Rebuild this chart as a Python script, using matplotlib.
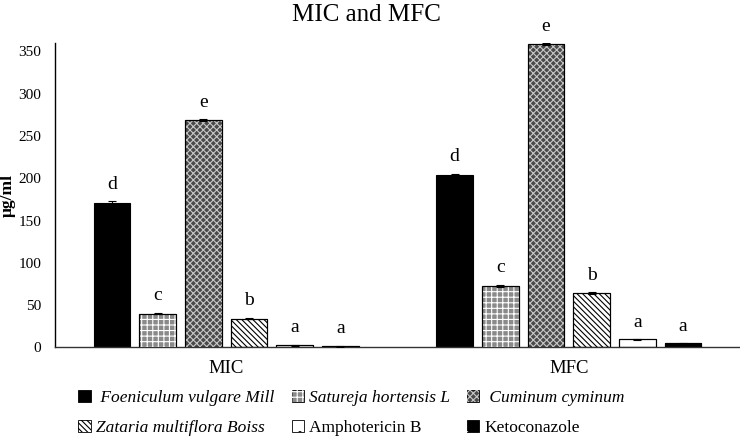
import numpy as np
import matplotlib.pyplot as plt
from matplotlib.patches import Patch
from matplotlib.legend_handler import HandlerTuple

plt.rcParams['font.family'] = ['Liberation Serif', 'DejaVu Serif']
plt.rcParams['hatch.linewidth'] = 0.8

# --- Data ---
groups = ["MIC", "MFC"]
series = ["Foeniculum vulgare Mill", "Satureja hortensis L", "Cuminum cyminum",
          "Zataria multiflora Boiss", "Amphotericin B", "Ketoconazole"]
italic = [True, True, True, True, False, False]
values = [
    [171, 204],   # Foeniculum
    [40, 73],     # Satureja
    [269, 359],   # Cuminum
    [34, 64],     # Zataria
    [2.7, 9.5],   # Amphotericin B
    [1.5, 4.7],   # Ketoconazole
]
errors = [
    [1.5, 1.5],
    [1, 1],
    [1, 1],
    [1, 1],
    [0.5, 0.5],
    [0.5, 0.5],
]
letters = [["d", "d"], ["c", "c"], ["e", "e"], ["b", "b"], ["a", "a"], ["a", "a"]]

# --- Styles (face, hatch, hatch colour) ---
styles = [
    ("black", "", "black"),
    ("#8a8a8a", "+++", "white"),
    ("#4a4a4a", "xxxxx", "#c8c8c8"),
    ("white", "\\\\\\\\\\\\", "black"),
    ("white", ".", "black"),
    ("black", ".", "white"),
]

fig = plt.figure(figsize=(7.4, 4.42), dpi=100)
ax = fig.add_axes([0.0743, 0.214, 0.9257, 0.689])

x = np.arange(len(groups))
step = 0.1333
width = 0.107
handles = []
for i, name in enumerate(series):
    face, hatch, hcol = styles[i]
    pos = x + (i - 2.5) * step
    ax.bar(pos, values[i], width, color=face, edgecolor="black", linewidth=0.8, zorder=2)
    if hatch:
        ax.bar(pos, values[i], width, color="none", edgecolor=hcol, hatch=hatch,
               linewidth=0, zorder=3)
        ax.bar(pos, values[i], width, color="none", edgecolor="black", linewidth=0.8, zorder=4)
    ax.errorbar(pos, values[i], yerr=errors[i], fmt="none", ecolor="black",
                elinewidth=0.8, capsize=3, capthick=0.8, zorder=5)
    for j in range(len(groups)):
        ax.annotate(letters[i][j], (pos[j], values[i][j] + errors[i][j]),
                    xytext=(0, 6), textcoords="offset points", ha="center", va="bottom",
                    fontsize=14, annotation_clip=False)
    base = Patch(facecolor=face, edgecolor="black", linewidth=0.6)
    if hatch:
        over = Patch(facecolor="none", edgecolor=hcol, hatch=hatch, linewidth=0)
        handles.append((base, over))
    else:
        handles.append(base)

ax.set_xlim(-0.5, 1.5)
ax.set_ylim(0, 360)
ax.set_yticks(range(0, 351, 50))
ax.set_xticks(x)
ax.set_xticklabels(groups, fontsize=13.5)
ax.tick_params(axis="y", labelsize=11, length=0, pad=10)
ax.tick_params(axis="x", length=0, pad=9)
ax.spines["top"].set_visible(False)
ax.spines["right"].set_visible(False)
ax.spines["left"].set_linewidth(1.0)
ax.spines["bottom"].set_linewidth(1.0)
ax.spines["bottom"].set_color("#333333")
ax.set_ylabel("\u03bcg/ml", fontsize=12.5, fontweight="bold", labelpad=2)

fig.suptitle("MIC and MFC", fontsize=18, x=0.495, y=0.99)

labels = [" " + series[0], series[1], " " + series[2], series[3], series[4], series[5]]
order = [0, 3, 1, 4, 2, 5]
leg = fig.legend([handles[k] for k in order], [labels[k] for k in order],
                 loc="upper left", bbox_to_anchor=(0.106, 0.118), ncol=3, frameon=False,
                 fontsize=12.5, handlelength=0.7, handleheight=0.7, handletextpad=0.3,
                 columnspacing=1.0, labelspacing=0.8, borderpad=0, borderaxespad=0,
                 handler_map={tuple: HandlerTuple(ndivide=1, pad=0)})
for k, t in zip(order, leg.get_texts()):
    if italic[k]:
        t.set_fontstyle("italic")

fig.savefig("out.png", dpi=100)
